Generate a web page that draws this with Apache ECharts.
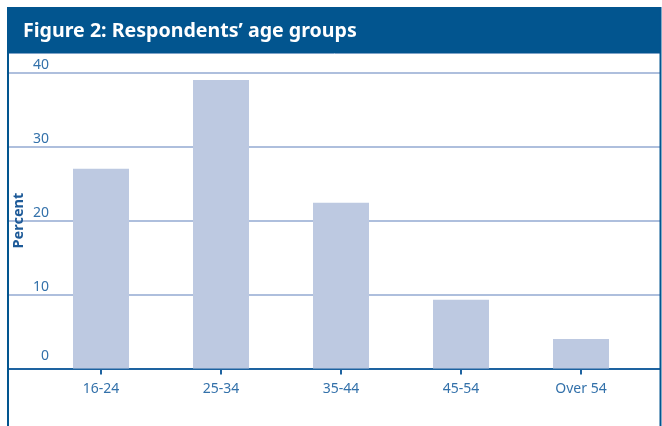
<!DOCTYPE html>
<html>
<head>
<meta charset="utf-8">
<script src="https://cdn.jsdelivr.net/npm/echarts@6/dist/echarts.min.js"></script>
<style>
html,body{margin:0;padding:0;background:#fff;}
#chart{width:662px;height:426px;}
</style>
</head>
<body>
<div id="chart"></div>
<script>
var categories = ['16-24', '25-34', '35-44', '45-54', 'Over 54'];
var percentValues = [27, 39, 22.4, 9.3, 4];
var yTicks = { min: 0, max: 40, interval: 10 };
var titleText = 'Figure 2: Respondents\u2019 age groups';
var yAxisName = 'Percent';

var FONT = '"Noto Sans", "Open Sans", sans-serif';
var DARK = '#02558f';
var LABEL = '#3371aa';
var GRID_TOP = 72.7;
var GRID_BOTTOM = 426 - 368.5;

var chart = echarts.init(document.getElementById('chart'), null, {renderer: 'canvas'});
chart.setOption({
  animation: false,
  backgroundColor: '#ffffff',
  title: {
    text: titleText,
    left: 18,
    top: 16,
    textStyle: { color: '#ffffff', fontFamily: FONT, fontWeight: 'bold', fontSize: 19.6 }
  },
  graphic: [
    { type: 'rect', z: -1, shape: { x: 7, y: 7, width: 654, height: 46 }, style: { fill: DARK } },
    { type: 'line', z: 10, shape: { x1: 8, y1: 53.5, x2: 661, y2: 53.5 }, style: { stroke: '#7fa3c8', lineWidth: 1 } },
    { type: 'line', z: 10, shape: { x1: 8, y1: 7, x2: 8, y2: 426 }, style: { stroke: DARK, lineWidth: 2 } },
    { type: 'line', z: 10, shape: { x1: 660.5, y1: 7, x2: 660.5, y2: 426 }, style: { stroke: DARK, lineWidth: 2 } }
  ],
  grid: [
    { left: 9, right: 2, top: GRID_TOP, bottom: GRID_BOTTOM, containLabel: false, outerBoundsMode: 'none' },
    { left: 41, right: 21, top: GRID_TOP, bottom: GRID_BOTTOM, containLabel: false, outerBoundsMode: 'none' }
  ],
  xAxis: [
    {
      gridIndex: 0, type: 'value', min: 0, max: 1,
      axisLine: { show: true, onZero: false, lineStyle: { color: '#1e63a0', width: 2 } },
      axisTick: { show: false }, axisLabel: { show: false }, splitLine: { show: false }
    },
    {
      gridIndex: 1, type: 'category', data: categories,
      axisLine: { show: false },
      axisTick: { show: true, alignWithLabel: true, length: 6, lineStyle: { color: '#1e63a0', width: 2 } },
      axisLabel: { color: LABEL, fontFamily: FONT, fontSize: 14, margin: 14 }
    }
  ],
  yAxis: [
    {
      gridIndex: 0, type: 'value', min: yTicks.min, max: yTicks.max, interval: yTicks.interval,
      axisLine: { show: false }, axisTick: { show: false },
      splitLine: { show: true, lineStyle: { color: '#aebfdd', width: 2 } },
      axisLabel: {
        inside: true, align: 'right', verticalAlign: 'bottom', margin: 40,
        padding: [0, 0, 1, 0],
        color: LABEL, fontFamily: FONT, fontSize: 14,
        formatter: function (v) { return v === 0 ? '{z|0}' : String(v); },
        rich: { z: { color: LABEL, fontFamily: FONT, fontSize: 14, padding: [0, 0, 4, 0] } }
      }
    },
    {
      gridIndex: 1, type: 'value', min: yTicks.min, max: yTicks.max, interval: yTicks.interval,
      name: yAxisName, nameLocation: 'middle', nameRotate: 90, nameGap: 15,
      nameTextStyle: { color: '#1d5a98', fontFamily: FONT, fontWeight: 'bold', fontSize: 14.5 },
      axisLine: { show: false }, axisTick: { show: false },
      axisLabel: { show: false }, splitLine: { show: false }
    }
  ],
  series: [
    {
      type: 'bar', xAxisIndex: 1, yAxisIndex: 1, data: percentValues,
      barWidth: 56, itemStyle: { color: '#bdc9e1' }, z: 1
    }
  ]
});
</script>
</body>
</html>
